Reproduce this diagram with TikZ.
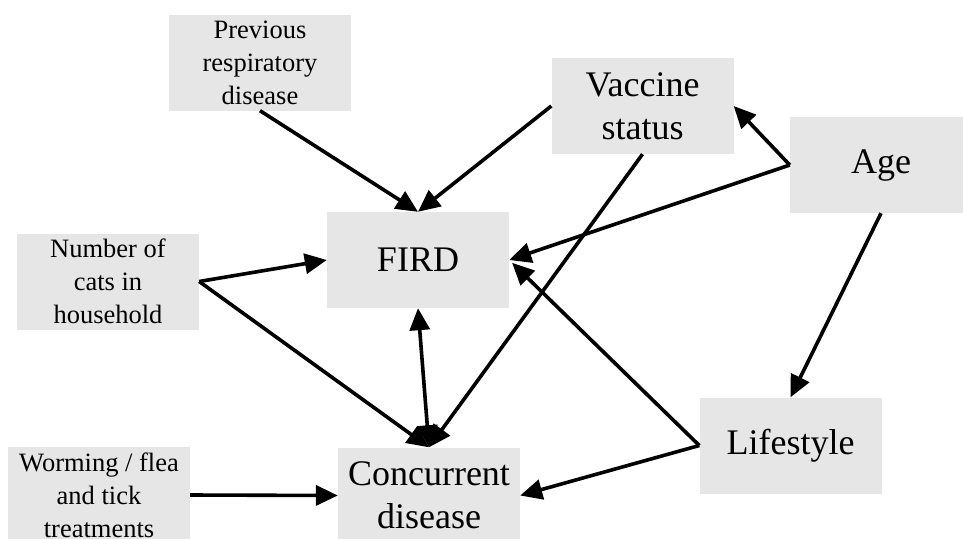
\documentclass[tikz,border=0pt]{standalone}
\usepackage{fontspec}
\setmainfont{Liberation Serif}
\usetikzlibrary{arrows.meta}
\definecolor{boxgray}{HTML}{E6E6E6}
\begin{document}
\begin{tikzpicture}[x=1pt,y=-1pt,
  box/.style={fill=boxgray, minimum width=182pt, minimum height=96pt, inner sep=0pt, align=center, text=black},
  big/.style={box, font=\fontsize{36}{43}\selectfont},
  small/.style={box, font=\fontsize{26.5}{33}\selectfont},
  arr/.style={line width=3.6pt, -{Triangle[length=22pt,width=20pt]}},
  dblarr/.style={line width=3.6pt, {Triangle[length=22pt,width=20pt]}-{Triangle[length=22pt,width=20pt]}}]
\useasboundingbox (0,0) rectangle (963,538);
\clip (0,0) rectangle (963,538);

\node[small] (prev) at (260,62.5) {Previous\\respiratory\\disease};
\node[big]   (vacc) at (642.5,106) {Vaccine\\status};
\node[big]   (age)  at (881,165) {Age};
\node[big]   (fird) at (418,260) {FIRD};
\node[small] (cats) at (108,281.5) {Number of\\cats in\\household};
\node[small] (worm) at (99,495) {Worming / flea\\and tick\\treatments};
\node[big]   (conc) at (429,495.5) {Concurrent\\disease};
\node[big]   (life) at (790.5,445.5) {Lifestyle};

\draw[arr] (prev.south) -- (fird.north);
\draw[arr] (vacc.west) -- (fird.north);
\draw[arr] (age.west) -- (vacc.east);
\draw[arr] (age.west) -- (fird.east);
\draw[arr] (cats.east) -- (fird.west);
\draw[arr] (cats.east) -- (conc.north);
\draw[dblarr] (fird.south) -- (conc.north);
\draw[arr] (vacc.south) -- (conc.north);
\draw[arr] (age.south) -- (life.north);
\draw[arr, shorten >=4pt] (life.west) -- (fird.east);
\draw[arr] (life.west) -- (conc.east);
\draw[arr] (worm.east) -- (conc.west);
\end{tikzpicture}
\end{document}
